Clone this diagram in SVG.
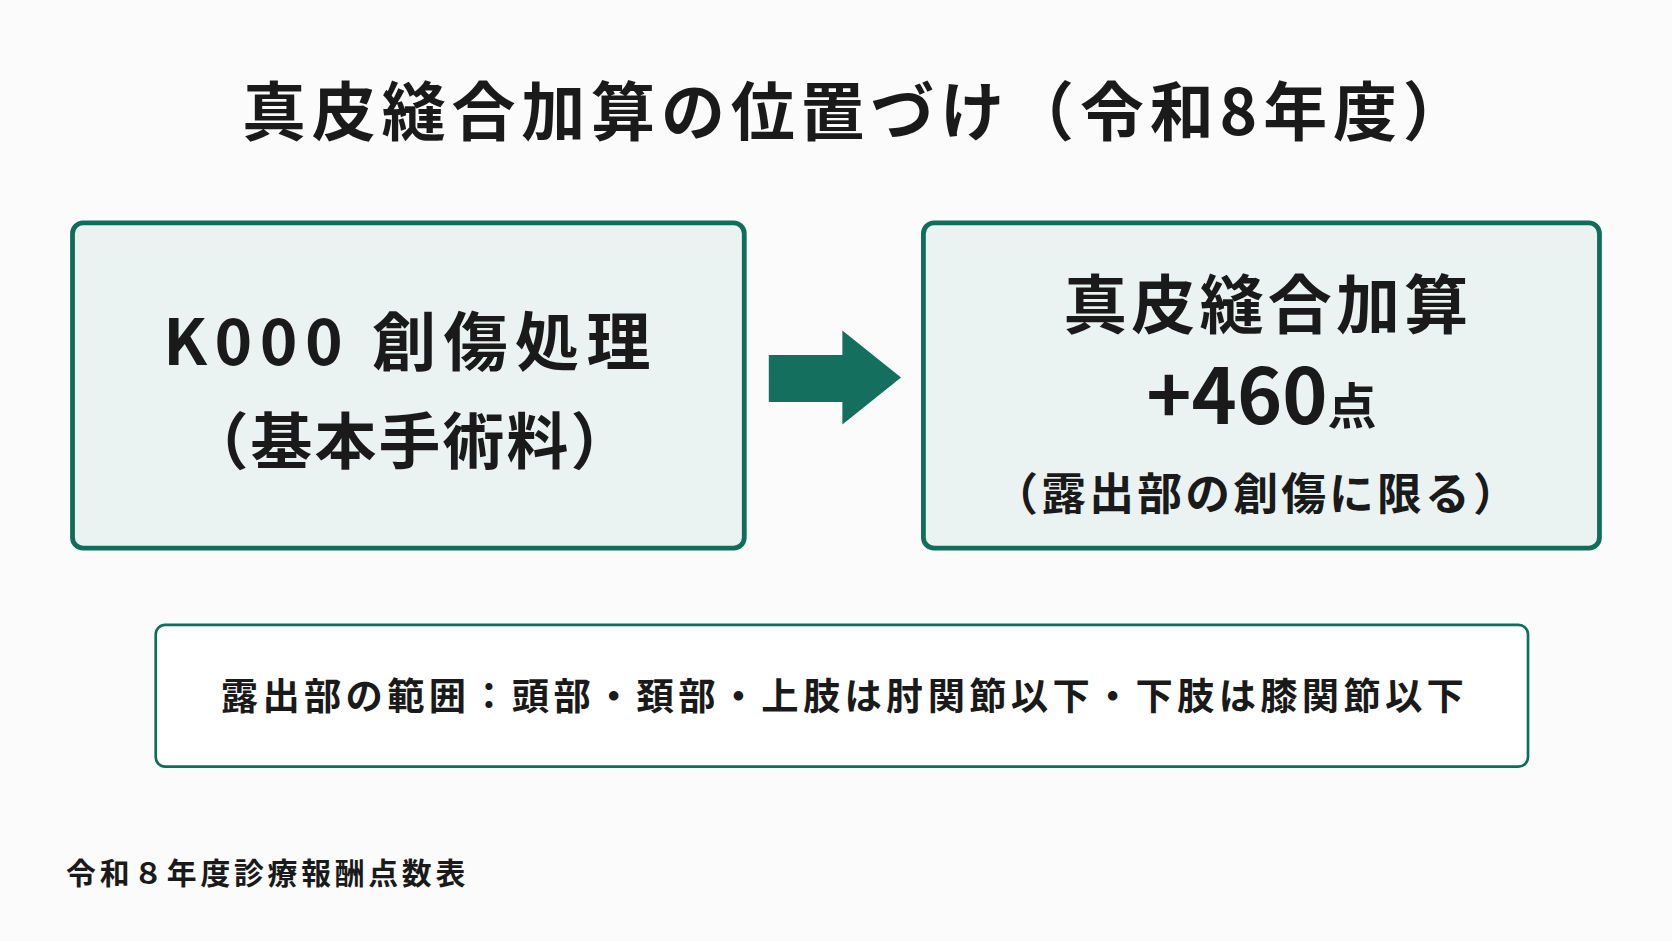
<svg xmlns="http://www.w3.org/2000/svg" width="1672" height="941" viewBox="0 0 1672 941">
<style>
text{font-family:"Noto Sans CJK JP","Noto Sans",sans-serif;fill:#1a1a1a;text-anchor:middle;font-weight:bold}
.box{fill:#eaf3f1;stroke:#0f6e5a;stroke-width:4.5}
</style>
<rect width="1672" height="941" fill="#fbfbfb"/>
<g transform="scale(1.0663)">
<g id="title"><text x="804" y="127" font-size="60" letter-spacing="5.5">真皮縫合加算の位置づけ（令和8年度）</text></g>
<g id="left">
<rect class="box" x="68" y="209" width="630" height="305" rx="10"/>
<text x="385" y="342" font-size="60" letter-spacing="7">K000 創傷処理</text>
<text x="385" y="435" font-size="58" letter-spacing="2">（基本手術料）</text>
</g>
<g id="connectors">
<polygon points="721,333 790,333 790,310 845,354 790,398 790,377 721,377" fill="#156f5e"/>
</g>
<g id="right">
<rect class="box" x="866" y="209" width="634" height="305" rx="10"/>
<text x="1189" y="308" font-size="60" letter-spacing="4">真皮縫合加算</text>
<text x="1183" y="398" font-size="72">+460<tspan font-size="46">点</tspan></text>
<text x="1179" y="478" font-size="42" letter-spacing="3">（露出部の創傷に限る）</text>
</g>
<g id="note">
<rect x="146" y="586" width="1287" height="133" rx="9" fill="#fff" stroke="#0f6e5a" stroke-width="2.5"/>
<text x="792" y="666" font-size="35" font-weight="500" letter-spacing="4">露出部の範囲：頭部・頚部・上肢は肘関節以下・下肢は膝関節以下</text>
</g>
<g id="footer"><text x="62" y="829" font-size="28" font-weight="500" style="text-anchor:start" letter-spacing="3.5">令和８年度診療報酬点数表</text></g>
</g>
</svg>
